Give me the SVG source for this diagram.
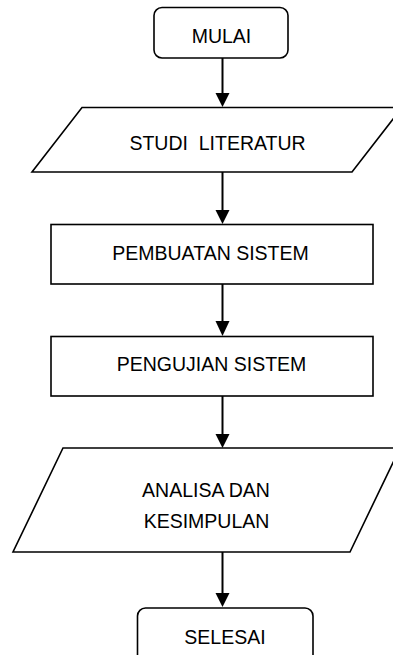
<svg xmlns="http://www.w3.org/2000/svg" width="393" height="655" viewBox="0 0 393 655">
<defs>
<style>
.shape{fill:#fff;stroke:#000;stroke-width:1.6}
.lbl{font-family:"Liberation Sans",Arial,sans-serif;font-size:19.5px;fill:#000;text-anchor:middle}
.conn{stroke:#000;stroke-width:2;fill:none}
.head{fill:#000}
</style>
</defs>
<rect width="393" height="655" fill="#fff"/>
<g id="connectors">
<line class="conn" x1="222.5" y1="58" x2="222.5" y2="94"/>
<polygon class="head" points="215.5,93 229.5,93 222.5,107"/>
<line class="conn" x1="222.5" y1="172" x2="222.5" y2="211"/>
<polygon class="head" points="215.5,210 229.5,210 222.5,224"/>
<line class="conn" x1="222.5" y1="284" x2="222.5" y2="322"/>
<polygon class="head" points="215.5,321 229.5,321 222.5,336"/>
<line class="conn" x1="222.5" y1="396" x2="222.5" y2="435"/>
<polygon class="head" points="215.5,434 229.5,434 222.5,448"/>
<line class="conn" x1="222.5" y1="552" x2="222.5" y2="594"/>
<polygon class="head" points="215.5,593 229.5,593 222.5,607"/>
</g>
<g id="mulai">
<rect class="shape" x="154" y="7.5" width="134" height="50.5" rx="8"/>
<text class="lbl" x="221.5" y="43">MULAI</text>
</g>
<g id="studi-literatur">
<polygon class="shape" points="82,107.5 402,107.5 352,172 32,172"/>
<text class="lbl" x="217.5" y="150" xml:space="preserve">STUDI  LITERATUR</text>
</g>
<g id="pembuatan-sistem">
<rect class="shape" x="51" y="224.5" width="322" height="59.5"/>
<text class="lbl" x="210.5" y="260">PEMBUATAN SISTEM</text>
</g>
<g id="pengujian-sistem">
<rect class="shape" x="51" y="336.5" width="322" height="59.5"/>
<text class="lbl" x="211.5" y="371">PENGUJIAN SISTEM</text>
</g>
<g id="analisa">
<polygon class="shape" points="63,448 400,448 350,552 13,552"/>
<text class="lbl" x="206" y="497">ANALISA DAN</text>
<text class="lbl" x="206.5" y="528">KESIMPULAN</text>
</g>
<g id="selesai">
<rect class="shape" x="137.5" y="608" width="175.5" height="60" rx="8"/>
<text class="lbl" x="225" y="644">SELESAI</text>
</g>
</svg>
